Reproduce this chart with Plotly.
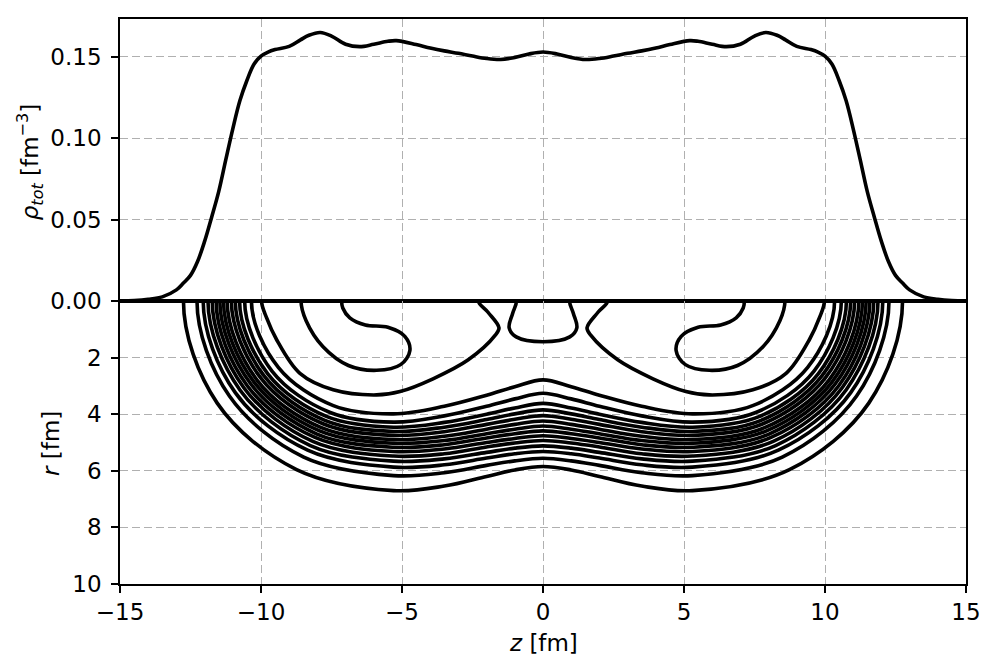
import numpy as np
import plotly.graph_objects as go
from plotly.subplots import make_subplots

# --- upper panel: total density along the symmetry axis ---
z_axis = [-15.0, -14.5, -14.0, -13.5, -13.0, -12.75, -12.5, -12.25, -12.0, -11.75,
          -11.5, -11.25, -11.0, -10.75, -10.5, -10.25, -10.0, -9.75, -9.5, -9.0,
          -8.6, -8.3, -7.9, -7.5, -7.0, -6.5, -6.0, -5.5, -5.2, -4.5,
          -4.0, -3.5, -3.0, -2.5, -2.0, -1.5, -1.0, -0.5, 0.0,
          0.5, 1.0, 1.5, 2.0, 2.5, 3.0, 3.5, 4.0, 4.5, 5.2,
          5.5, 6.0, 6.5, 7.0, 7.5, 7.9, 8.3, 8.6, 9.0, 9.5,
          9.75, 10.0, 10.25, 10.5, 10.75, 11.0, 11.25, 11.5, 11.75, 12.0,
          12.25, 12.5, 12.75, 13.0, 13.5, 14.0, 14.5, 15.0]
rho_axis = [0.0001, 0.0003, 0.0010, 0.0025, 0.0068, 0.0110, 0.0157, 0.0242, 0.0366, 0.0515,
            0.0672, 0.0867, 0.1058, 0.1230, 0.1355, 0.1455, 0.1505, 0.1530, 0.1545, 0.1565,
            0.1605, 0.1633, 0.1650, 0.1628, 0.1578, 0.1563, 0.1578, 0.1596, 0.1600, 0.1576,
            0.1555, 0.1537, 0.1522, 0.1505, 0.1490, 0.1484, 0.1497, 0.1518, 0.1530,
            0.1518, 0.1497, 0.1484, 0.1490, 0.1505, 0.1522, 0.1537, 0.1555, 0.1576, 0.1600,
            0.1596, 0.1578, 0.1563, 0.1578, 0.1628, 0.1650, 0.1633, 0.1605, 0.1565, 0.1545,
            0.1530, 0.1505, 0.1455, 0.1355, 0.1230, 0.1058, 0.0867, 0.0672, 0.0515, 0.0366,
            0.0242, 0.0157, 0.0110, 0.0068, 0.0025, 0.0010, 0.0003, 0.0001]

# --- lower panel: density contours in the (z, r) plane ---
levels = [0.01, 0.02, 0.03, 0.04, 0.05, 0.06, 0.07, 0.08, 0.09, 0.10, 0.11, 0.12, 0.13, 0.14]

# surface contours, left lobe: distance from the lobe centre at given angles
# (angle measured from the -z axis towards +r)
lobe_center = -5.3
lobe_angles = [0, 30, 60, 90]
lobe_radius = [
    [7.45, 7.22, 6.88, 6.70],
    [6.97, 6.72, 6.37, 6.17],
    [6.75, 6.48, 6.09, 5.87],
    [6.58, 6.29, 5.90, 5.66],
    [6.43, 6.13, 5.73, 5.48],
    [6.29, 5.99, 5.57, 5.32],
    [6.16, 5.85, 5.43, 5.17],
    [6.03, 5.72, 5.29, 5.03],
    [5.90, 5.59, 5.16, 4.90],
    [5.75, 5.44, 5.01, 4.75],
    [5.61, 5.30, 4.87, 4.61],
    [5.46, 5.15, 4.72, 4.46],
    [5.28, 4.97, 4.54, 4.28],
    [5.04, 4.71, 4.27, 3.99],
]
# the same contours across the neck: r at fixed z
neck_z = [-3.5, -2.0, -1.0, 0.0]
neck_r = [
    [6.54, 6.20, 5.97, 5.85],
    [6.07, 5.81, 5.65, 5.56],
    [5.79, 5.55, 5.40, 5.32],
    [5.58, 5.35, 5.20, 5.12],
    [5.40, 5.16, 5.02, 4.93],
    [5.23, 5.00, 4.86, 4.76],
    [5.08, 4.84, 4.69, 4.59],
    [4.93, 4.69, 4.53, 4.42],
    [4.78, 4.53, 4.36, 4.24],
    [4.62, 4.36, 4.18, 4.05],
    [4.46, 4.19, 3.99, 3.85],
    [4.29, 4.00, 3.78, 3.62],
    [4.06, 3.72, 3.46, 3.26],
    [3.72, 3.33, 3.03, 2.79],
]

# interior contours (left half, mirrored to z > 0)
c15_lobe_z = [-9.98, -9.80, -9.44, -8.62, -7.44, -5.90, -5.07, -3.90, -2.65, -1.70, -1.56, -1.95, -2.29]
c15_lobe_r = [0.00, 0.60, 1.38, 2.56, 3.14, 3.32, 3.20, 2.75, 2.08, 1.22, 0.95, 0.40, 0.00]
c15_mid_z = [-0.94, -1.08, -1.20, -0.95, 0.00]
c15_mid_r = [0.00, 0.45, 0.95, 1.27, 1.44]
c16_z = [-8.58, -8.40, -7.80, -6.90, -5.90, -5.05, -4.72, -4.90, -5.50, -6.30, -6.85, -7.10, -7.14]
c16_r = [0.00, 0.70, 1.62, 2.28, 2.45, 2.25, 1.75, 1.25, 0.93, 0.85, 0.60, 0.25, 0.00]

LINE_W = 3.6
FONT = "DejaVu Sans"
FS = 23


def axis_ends(zs, rs):
    # reflect the neighbours across r = 0 so the spline leaves the axis vertically
    return [zs[1]] + zs + [zs[-2]], [-rs[1]] + rs + [-rs[-2]]


def closed_over_neck(zs, rs):
    # half curve ending at z = 0 -> full symmetric curve
    full_z = list(zs) + [-v for v in zs[-2::-1]]
    full_r = list(rs) + list(rs[-2::-1])
    return axis_ends(full_z, full_r)


fig = make_subplots(rows=2, cols=1, shared_xaxes=True, vertical_spacing=0)

fig.add_trace(go.Scatter(x=z_axis, y=rho_axis, mode="lines", line_shape="spline",
                         line=dict(color="black", width=LINE_W), hoverinfo="skip"),
              row=1, col=1)

for lvl, radii, rcol in zip(levels, lobe_radius, neck_r):
    ang = np.radians(lobe_angles)
    zs = list(lobe_center - np.array(radii) * np.cos(ang)) + neck_z
    rs = list(np.array(radii) * np.sin(ang)) + rcol
    cz, cr = closed_over_neck(zs, rs)
    fig.add_trace(go.Scatter(x=cz, y=cr, mode="lines", line_shape="spline",
                             line=dict(color="black", width=LINE_W), name=f"{lvl:.2f}",
                             hoverinfo="skip"), row=2, col=1)

# interior 0.15 / 0.16 contours on both sides
for zs, rs in [(c15_lobe_z, c15_lobe_r), (c16_z, c16_r)]:
    for sgn in (1, -1):
        cz, cr = axis_ends([sgn * v for v in zs], list(rs))
        fig.add_trace(go.Scatter(x=cz, y=cr, mode="lines", line_shape="spline",
                                 line=dict(color="black", width=LINE_W), hoverinfo="skip"),
                      row=2, col=1)
cz, cr = closed_over_neck(c15_mid_z, c15_mid_r)
fig.add_trace(go.Scatter(x=cz, y=cr, mode="lines", line_shape="spline",
                         line=dict(color="black", width=LINE_W), hoverinfo="skip"),
              row=2, col=1)

axis_style = dict(showline=True, linecolor="black", linewidth=1.7, mirror=True,
                  tickcolor="black", tickwidth=1.7, ticklen=7, automargin=False,
                  showgrid=True, gridcolor="#b0b0b0", gridwidth=1.3, griddash="8px,4px",
                  zeroline=False, tickfont=dict(family=FONT, size=FS, color="black"))

xt = [-15, -10, -5, 0, 5, 10, 15]
xt_text = [str(v).replace("-", "\u2212") for v in xt]
fig.update_xaxes(axis_style, range=[-15, 15], tickvals=xt, ticktext=xt_text)
fig.update_xaxes(ticks="", showticklabels=False, row=1, col=1)
fig.update_xaxes(ticks="outside", row=2, col=1)

fig.update_yaxes(axis_style, ticks="outside", ticklabelstandoff=5)
fig.update_yaxes(domain=[0.501, 1.0], range=[0, 0.1733],
                 tickvals=[0, 0.05, 0.10, 0.15], ticktext=["0.00", "0.05", "0.10", "0.15"],
                 row=1, col=1)
fig.update_yaxes(domain=[0.0, 0.501], range=[10, 0],
                 tickvals=[2, 4, 6, 8, 10], ticktext=["2", "4", "6", "8", "10"],
                 row=2, col=1)

ann = dict(xref="paper", yref="paper", showarrow=False,
           font=dict(family=FONT, size=FS, color="black"))
# page body adds an 8 px offset, so the figure is drawn slightly smaller
fig.update_layout(
    width=989, height=656,
    margin=dict(l=112, r=31, t=11, b=80),
    plot_bgcolor="white", paper_bgcolor="white",
    showlegend=False,
    font=dict(family=FONT, size=FS, color="black"),
    annotations=[
        dict(ann, text="<i>\u03c1</i><sub><i>tot</i></sub> [fm<sup>\u22123</sup>]",
             x=-0.106, y=0.747, textangle=-90, xanchor="center", yanchor="middle"),
        dict(ann, text="<i>r</i> [fm]", x=-0.0816, y=0.2496, textangle=-90,
             xanchor="center", yanchor="middle"),
        dict(ann, text="<i>z</i> [fm]", x=0.5, y=-0.104, xanchor="center", yanchor="middle"),
    ],
)

fig.write_html("out.html")
